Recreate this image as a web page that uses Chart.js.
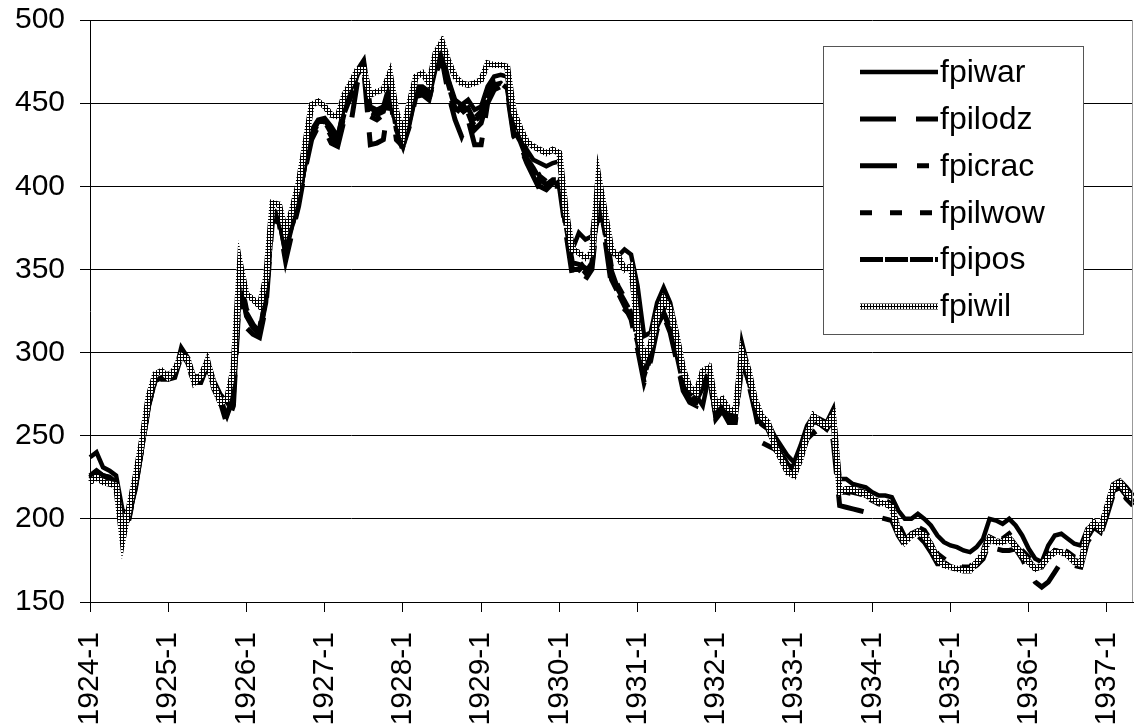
<!DOCTYPE html>
<html>
<head>
<meta charset="utf-8">
<script src="https://cdn.jsdelivr.net/npm/chart.js@4.4.1/dist/chart.umd.min.js"></script>
<style>
  body { margin: 0; background: #fff; }
  #wrap { width: 1134px; height: 726px; position: relative; }
</style>
</head>
<body>
<div id="wrap"><canvas id="myChart"></canvas></div>
<script>
/*----------------------------data------------------------------------*/
var years = [1924,1925,1926,1927,1928,1929,1930,1931,1932,1933,1934,1935,1936,1937];
var lastMonth = 5; // series runs to 1937-5

var labels = [];
years.forEach(function (y) {
  for (var m = 1; m <= 12; m++) {
    if (y === 1937 && m > lastMonth) break;
    labels.push(y + "-" + m);
  }
});

var fpiwar = [
  237,240,231,229,226,205,203,218,243,268,283,285,
  285,287,303,297,285,286,296,283,275,270,278,348,
  322,316,311,330,384,380,360,376,390,413,434,440,
  441,436,430,448,458,470,476,448,446,448,462,438,
  428,442,460,460,457,474,481,464,452,449,452,446,
  448,460,466,467,466,440,432,422,416,414,412,414,
  415,385,362,372,368,370,400,382,360,358,362,359,
  340,310,312,330,339,330,312,290,280,274,268,287,
  262,270,263,264,306,290,272,262,258,250,244,238,
  234,244,256,262,260,258,266,224,224,221,220,219,
  216,214,214,213,205,200,200,203,200,196,190,186,
  184,183,181,180,183,188,200,199,197,200,196,190,
  182,176,174,184,190,191,188,185,184,194,197,195,
  207,221,223,219,214
];
var fpilodz = [
  226,229,226,225,221,198,200,220,243,268,283,284,
  284,285,298,292,282,282,292,278,270,257,268,340,
  315,311,309,328,380,378,355,372,388,410,428,436,
  434,426,424,440,437,462,470,425,426,428,455,428,
  424,436,454,455,452,468,476,455,440,430,440,425,
  425,450,458,460,456,430,424,414,406,398,396,400,
  400,372,346,348,344,350,388,368,340,336,328,320,
  302,282,295,314,322,312,295,277,270,268,280,286,
  260,265,258,258,292,282,265,246,244,242,238,232,
  228,236,248,252,247,245,247,208,207,206,205,204,
  202,201,200,199,190,184,188,190,186,180,173,173,
  173,171,170,170,172,176,186,182,181,181,182,176,
  168,162,159,162,168,174,174,172,171,186,192,190,
  202,215,218,212,208
];
var fpicrac = [
  225,228,226,225,222,195,202,221,244,270,284,286,
  286,287,300,294,284,284,293,279,271,262,273,343,
  322,315,311,333,384,381,360,376,391,414,430,438,
  438,430,426,443,454,466,472,442,440,443,458,432,
  422,438,456,456,452,470,478,458,444,440,444,434,
  438,452,460,461,458,432,425,415,408,400,398,402,
  402,375,350,350,346,352,392,372,344,336,326,322,
  306,284,298,316,324,314,298,279,272,270,278,286,
  261,266,260,260,295,283,266,256,254,245,239,233,
  229,239,251,259,257,254,260,216,216,215,214,213,
  211,209,208,206,194,187,191,193,191,185,177,174,
  171,170,169,169,174,179,189,187,186,189,184,179,
  175,170,171,177,181,180,178,175,174,189,195,192,
  204,217,219,214,210
];
var fpilwow = [
  224,227,225,224,221,194,204,223,246,271,285,287,
  287,289,301,296,285,286,295,281,273,265,276,346,
  326,319,314,336,386,383,365,379,393,416,433,441,
  440,434,429,446,456,469,474,447,445,447,461,436,
  426,441,459,459,456,473,481,463,449,446,449,441,
  445,456,463,464,461,436,429,419,413,406,403,406,
  406,379,356,355,350,356,396,376,351,340,333,326,
  311,288,301,319,326,317,301,283,276,273,281,289,
  264,269,263,263,299,286,269,259,256,247,241,235,
  231,241,253,261,259,256,263,219,219,218,217,216,
  214,212,211,209,197,189,193,195,193,187,179,176,
  173,172,171,171,176,181,191,189,188,191,186,181,
  177,172,173,179,183,182,180,177,176,191,197,194,
  206,219,221,216,212
];
var fpipos = [
  225,228,226,224,220,193,201,221,244,269,283,285,
  285,287,299,294,283,284,293,279,271,263,274,344,
  324,317,312,334,384,381,363,377,391,414,431,439,
  439,432,427,444,454,467,473,445,443,445,459,434,
  424,439,457,457,454,471,479,461,447,444,447,439,
  443,454,461,462,459,434,427,417,411,404,401,404,
  404,377,354,353,348,354,394,374,349,338,331,324,
  309,286,299,317,324,315,299,281,274,271,279,287,
  262,267,261,261,297,284,267,257,254,245,239,233,
  229,239,251,259,257,254,261,217,217,216,215,214,
  212,210,209,207,195,187,191,193,191,185,177,174,
  171,170,169,169,174,179,189,187,186,189,184,179,
  175,170,171,177,181,180,178,175,174,189,195,192,
  204,217,219,214,210
];
var fpiwil = [
  222,225,222,221,220,187,207,226,248,274,287,289,
  285,290,298,296,282,286,295,280,270,272,290,354,
  335,332,328,345,390,389,373,386,402,425,449,451,
  448,443,442,455,462,470,470,455,457,458,468,445,
  432,450,466,468,462,480,487,475,466,462,461,462,
  464,474,473,473,472,445,435,427,424,422,420,422,
  420,385,362,360,357,360,406,384,362,358,350,352,
  315,297,305,322,332,326,310,290,279,276,289,291,
  268,272,266,265,300,290,272,262,258,244,236,228,
  226,236,250,262,258,256,262,216,218,218,216,215,
  212,210,209,207,192,186,190,192,190,184,176,172,
  171,170,169,169,174,179,188,186,186,188,183,178,
  174,170,172,177,180,180,178,174,173,192,198,194,
  207,220,222,216,212
];

var yMin = 150, yMax = 500, yStep = 50;

/*----------------------------styles------------------------------------*/
var FONT = "'Liberation Sans', Arial, sans-serif";

// grey "checkered" line used for fpiwil
var pc = document.createElement("canvas");
pc.width = 3; pc.height = 3;
var pctx = pc.getContext("2d");
pctx.fillStyle = "#fff";
pctx.fillRect(0, 0, 3, 3);
pctx.fillStyle = "#000";
pctx.fillRect(0, 0, 3, 1);
pctx.fillRect(0, 0, 1, 3);
var wilPattern = pctx.createPattern(pc, "repeat");

var legendPlugin = {
  id: "boxLegend",
  afterDraw: function (chart) {
    var ctx = chart.ctx;
    var a = chart.chartArea;
    ctx.save();
    // right edge of plot area
    ctx.strokeStyle = "#999";
    ctx.lineWidth = 1;
    ctx.beginPath();
    ctx.moveTo(a.right - 0.5, a.top);
    ctx.lineTo(a.right - 0.5, a.bottom);
    ctx.stroke();

    // legend box
    var bx = 823.5, by = 46.5, bw = 260, bh = 288;
    ctx.fillStyle = "#fff";
    ctx.fillRect(bx, by, bw, bh);
    ctx.strokeStyle = "#555";
    ctx.strokeRect(bx, by, bw, bh);

    ctx.font = "32px " + FONT;
    ctx.textBaseline = "middle";
    ctx.textAlign = "left";
    chart.data.datasets.forEach(function (ds, i) {
      var y = 72 + i * 46.9;
      ctx.setLineDash(ds.borderDash || []);
      ctx.lineWidth = ds.borderWidth;
      ctx.strokeStyle = ds.borderColor;
      ctx.beginPath();
      ctx.moveTo(860, y);
      ctx.lineTo(938, y);
      ctx.stroke();
      ctx.setLineDash([]);
      ctx.fillStyle = "#000";
      ctx.fillText(ds.label, 940, y + 1);
    });
    ctx.restore();
  }
};

/*----------------------------LineChart------------------------------------*/
new Chart("myChart", {
  type: "line",
  data: {
    labels: labels,
    datasets: [
      { label: "fpiwar",  data: fpiwar,  borderColor: "#000", borderWidth: 4.5, borderDash: [], order: 5 },
      { label: "fpilodz", data: fpilodz, borderColor: "#000", borderWidth: 5, borderDash: [36, 20], order: 4 },
      { label: "fpicrac", data: fpicrac, borderColor: "#000", borderWidth: 5, borderDash: [37, 20, 12, 20], order: 3 },
      { label: "fpilwow", data: fpilwow, borderColor: "#000", borderWidth: 5, borderDash: [12, 18], order: 2 },
      { label: "fpipos",  data: fpipos,  borderColor: "#000", borderWidth: 5, borderDash: [23, 2], order: 1 },
      { label: "fpiwil",  data: fpiwil,  borderColor: wilPattern, borderWidth: 6, borderDash: [], order: 0 }
    ]
  },
  options: {
    responsive: true,
    maintainAspectRatio: false,
    animation: false,
    devicePixelRatio: 1,
    layout: { padding: { top: 20, right: 1, bottom: 0, left: 0 } },
    elements: {
      point: { radius: 0, hoverRadius: 0 },
      line: { tension: 0, fill: false }
    },
    plugins: {
      legend: { display: false },
      tooltip: { enabled: false },
      title: { display: false }
    },
    scales: {
      x: {
        type: "category",
        offset: false,
        grid: {
          drawOnChartArea: false,
          drawTicks: true,
          tickLength: 10,
          color: function (c) { return c.index % 12 === 0 ? "#000" : "rgba(0,0,0,0)"; }
        },
        border: { color: "#000", width: 1 },
        ticks: {
          autoSkip: false,
          maxRotation: 90,
          minRotation: 90,
          padding: 20,
          color: "#000",
          font: { family: FONT, size: 30 },
          callback: function (value, index) {
            return index % 12 === 0 ? labels[index] : "";
          }
        },
        afterFit: function (scale) {
          scale.height = 124;
          scale.paddingLeft = 0;
          scale.paddingRight = 0;
        }
      },
      y: {
        min: yMin,
        max: yMax,
        grid: { color: "#000", lineWidth: 1, tickLength: 10 },
        border: { color: "#000", width: 1 },
        ticks: {
          stepSize: yStep,
          padding: 15,
          color: "#000",
          font: { family: FONT, size: 30 }
        },
        afterFit: function (scale) {
          scale.width = 90;
          scale.paddingTop = 0;
          scale.paddingBottom = 0;
        }
      }
    }
  },
  plugins: [legendPlugin]
});
</script>
</body>
</html>
